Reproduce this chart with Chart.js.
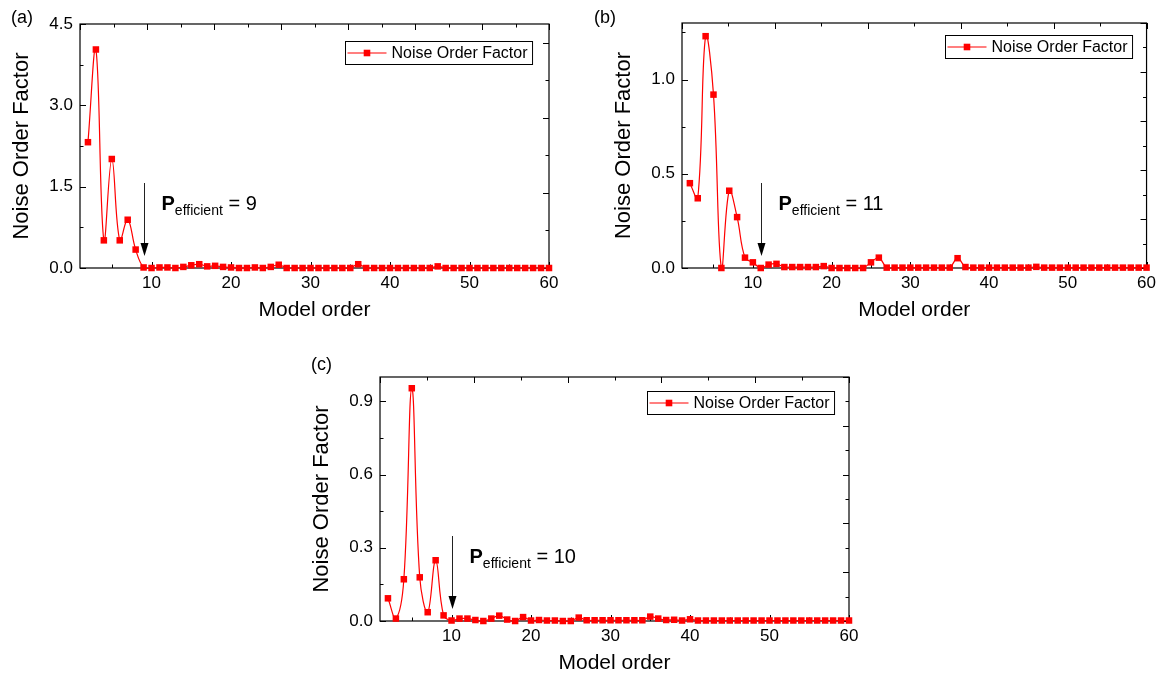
<!DOCTYPE html>
<html>
<head>
<meta charset="utf-8">
<script src="https://cdn.jsdelivr.net/npm/chart.js@4.4.1/dist/chart.umd.min.js"></script>
<style>
  body { margin: 0; background: #fff; width: 1161px; height: 682px; position: relative; overflow: hidden;
         font-family: "Liberation Sans", Arial, sans-serif; }
  canvas { position: absolute; }
  .tag { position: absolute; font-size: 18px; line-height: 1; color: #000; }
</style>
</head>
<body>
<canvas id="chart-a" width="570" height="340" style="left:0;top:0"></canvas>
<canvas id="chart-b" width="559" height="340" style="left:602px;top:0"></canvas>
<canvas id="chart-c" width="570" height="340" style="left:300px;top:353px"></canvas>
<div class="tag" style="left:11px;top:8px">(a)</div>
<div class="tag" style="left:594px;top:8px">(b)</div>
<div class="tag" style="left:311px;top:355px">(c)</div>
<script>
// model orders 2..60
const modelOrder = [2, 3, 4, 5, 6, 7, 8, 9, 10, 11, 12, 13, 14, 15, 16, 17, 18, 19, 20,
  21, 22, 23, 24, 25, 26, 27, 28, 29, 30, 31, 32, 33, 34, 35, 36, 37, 38, 39, 40,
  41, 42, 43, 44, 45, 46, 47, 48, 49, 50, 51, 52, 53, 54, 55, 56, 57, 58, 59, 60];

const noiseA = [2.32, 4.03, 0.51, 2.01, 0.51, 0.89, 0.34, 0.01, 0.00, 0.01, 0.01, 0.00, 0.02, 0.05,
  0.07, 0.03, 0.04, 0.02, 0.01, 0.00, 0.00, 0.01, 0.00, 0.02, 0.06,
  0.00, 0.00, 0.00, 0.00, 0.00, 0.00, 0.00, 0.00, 0.00, 0.07,
  0.00, 0.00, 0.00, 0.00, 0.00, 0.00, 0.00, 0.00, 0.00, 0.03,
  0.00, 0.00, 0.00, 0.00, 0.00, 0.00, 0.00, 0.00, 0.00, 0.00, 0.00, 0.00, 0.00, 0.00];

const noiseB = [0.45, 0.37, 1.23, 0.92, 0.00, 0.41, 0.27, 0.055, 0.03, 0.00, 0.018, 0.022, 0.005,
  0.005, 0.005, 0.005, 0.005, 0.01, 0.00, 0.00, 0.00, 0.00, 0.00, 0.03, 0.055,
  0.002, 0.002, 0.002, 0.002, 0.002, 0.002, 0.002, 0.002, 0.002, 0.052, 0.005,
  0.002, 0.002, 0.002, 0.002, 0.002, 0.002, 0.002, 0.002, 0.006,
  0.002, 0.002, 0.002, 0.002, 0.002, 0.002, 0.002, 0.002, 0.002, 0.002, 0.002, 0.002, 0.002, 0.002];

const noiseC = [0.093, 0.01, 0.171, 0.954, 0.179, 0.036, 0.249, 0.023, 0.002, 0.01, 0.01, 0.004,
  0.00, 0.01, 0.022, 0.006, 0.00, 0.016, 0.002, 0.004, 0.002, 0.002, 0.00, 0.00, 0.014, 0.003,
  0.003, 0.003, 0.003, 0.003, 0.003, 0.003, 0.003,
  0.018, 0.01, 0.004, 0.005, 0.002, 0.007,
  0.002, 0.002, 0.002, 0.002, 0.002, 0.002, 0.002, 0.002, 0.002, 0.002,
  0.002, 0.002, 0.002, 0.002, 0.002, 0.002, 0.002, 0.002, 0.002, 0.002];

const xTicks  = [10, 20, 30, 40, 50, 60];
const yTicksA = [0, 1.5, 3.0, 4.5];
const yTicksB = [0, 0.5, 1.0];
const yTicksC = [0, 0.3, 0.6, 0.9];

const seriesName = "Noise Order Factor";
const RED = "#ff0000";
const FONT = '"Liberation Sans", Arial, sans-serif';

Chart.defaults.font.family = FONT;
Chart.defaults.color = "#000";

function tickRange(min, max, step) {
  const out = [];
  for (let i = Math.ceil(min / step - 1e-9); i * step <= max + 1e-9; i++) out.push(i * step);
  return out;
}

// box frame with inward major/minor ticks on all four sides
const frameTicks = {
  id: "frameTicks",
  beforeDatasetsDraw(chart, args, o) {
    const { ctx, chartArea: a, scales } = chart;
    ctx.save();
    ctx.strokeStyle = "#000";
    ctx.lineWidth = 1.2;
    ctx.strokeRect(a.left, a.top, a.width, a.height);
    ctx.lineWidth = 1;
    const side = (scale, major, minor, edge, dir, horiz) => {
      const opts = scale.options;
      tickRange(opts.min, opts.max, minor).forEach(v => {
        const isMajor = Math.abs(v / major - Math.round(v / major)) < 1e-6;
        const len = isMajor ? 6 : 3.5;
        const p = Math.round(scale.getPixelForValue(v)) + 0.5;
        ctx.beginPath();
        if (horiz) { ctx.moveTo(p, edge); ctx.lineTo(p, edge + dir * len); }
        else { ctx.moveTo(edge, p); ctx.lineTo(edge + dir * len, p); }
        ctx.stroke();
      });
    };
    side(scales.x,  o.x[0],  o.x[1],  a.bottom, -1, true);
    side(scales.x2, o.x2[0], o.x2[1], a.top,     1, true);
    side(scales.y,  o.y[0],  o.y[1],  a.left,    1, false);
    side(scales.y2, o.y2[0], o.y2[1], a.right,  -1, false);
    ctx.restore();
  },
};

// arrow + "P_efficient = n" label
const pMark = {
  id: "pMark",
  afterDatasetsDraw(chart, args, o) {
    const { ctx, chartArea: a, scales } = chart;
    const x = Math.round(scales.x.getPixelForValue(o.order)) + 0.5;
    const y0 = a.bottom - 85, y1 = a.bottom - 12;
    ctx.save();
    ctx.strokeStyle = "#222";
    ctx.fillStyle = "#000";
    ctx.lineWidth = 1;
    ctx.beginPath(); ctx.moveTo(x, y0); ctx.lineTo(x, y1 - 12); ctx.stroke();
    ctx.beginPath();
    ctx.moveTo(x - 4, y1 - 13); ctx.lineTo(x + 4, y1 - 13); ctx.lineTo(x, y1);
    ctx.closePath(); ctx.fill();

    const base = a.bottom - 58;
    let tx = x + 17;
    ctx.textBaseline = "alphabetic";
    ctx.font = "bold 20px " + FONT;
    ctx.fillText("P", tx, base);
    tx += ctx.measureText("P").width;
    ctx.font = "14px " + FONT;
    ctx.fillText("efficient", tx, base + 5);
    tx += ctx.measureText("efficient").width;
    ctx.font = "20px " + FONT;
    ctx.fillText(" = " + o.order, tx, base);
    ctx.restore();
  },
};

// boxed legend in the upper right of the plot
const boxLegend = {
  id: "boxLegend",
  afterDraw(chart, args, o) {
    const { ctx, chartArea: a } = chart;
    ctx.save();
    ctx.font = "16px " + FONT;
    const w = 46 + ctx.measureText(seriesName).width + 5, h = 23;
    const left = Math.round(a.right - o.dx - w) + 0.5, top = Math.round(a.top + o.dy) + 0.5;
    ctx.fillStyle = "#fff";
    ctx.fillRect(left, top, w, h);
    ctx.strokeStyle = "#000";
    ctx.lineWidth = 1;
    ctx.strokeRect(left, top, w, h);
    const my = top + h / 2;
    ctx.strokeStyle = RED;
    ctx.lineWidth = 1.2;
    ctx.beginPath(); ctx.moveTo(left + 2, my); ctx.lineTo(left + 41, my); ctx.stroke();
    ctx.fillStyle = RED;
    ctx.fillRect(left + 21.5 - 3.3, my - 3.3, 6.6, 6.6);
    ctx.fillStyle = "#000";
    ctx.textBaseline = "middle";
    ctx.fillText(seriesName, left + 46, my + 1);
    ctx.restore();
  },
};

function mkPanel(canvasId, values, yMax, yTicks, yMinor, order, pad, legendOff, twin) {
  const ctx = document.getElementById(canvasId).getContext("2d");
  return new Chart(ctx, {
    type: "line",
    data: {
      datasets: [{
        label: seriesName,
        data: modelOrder.map((m, i) => ({ x: m, y: values[i] })),
        borderColor: RED,
        backgroundColor: RED,
        borderWidth: 1.2,
        pointStyle: "rect",
        pointRadius: 4.6,
        pointBorderWidth: 0,
        pointBackgroundColor: RED,
        tension: 0.4,
        clip: false,
      }],
    },
    options: {
      responsive: false,
      animation: false,
      elements: { line: { capBezierPoints: false } },
      layout: { padding: { left: 0, top: pad.top, right: pad.right, bottom: 0 } },
      plugins: {
        legend: { display: false },
        tooltip: { enabled: false },
        frameTicks: { x: [10, 5], x2: [2, 1], y: [yMinor * 2, yMinor], y2: [2, 1] },
        pMark: { order },
        boxLegend: legendOff,
      },
      scales: {
        x: {
          type: "linear", position: "bottom", min: 1, max: 60,
          afterBuildTicks: s => { s.ticks = xTicks.map(v => ({ value: v })); },
          afterFit: s => { s.height = 72; },
          ticks: { font: { size: 17 }, color: "#000", padding: 5, maxRotation: 0 },
          grid: { display: false, drawTicks: false },
          border: { display: false },
          title: { display: true, text: "Model order", font: { size: 21 }, color: "#000", padding: { top: 0, bottom: 17 } },
        },
        x2: { type: "linear", position: "top", min: 0, max: twin.x2, display: false },
        y: {
          type: "linear", position: "left", min: 0, max: yMax,
          afterBuildTicks: s => { s.ticks = yTicks.map(v => ({ value: v })); },
          afterFit: s => { s.width = 80; },
          ticks: { font: { size: 17 }, color: "#000", padding: 7, callback: v => v.toFixed(1) },
          grid: { display: false, drawTicks: false },
          border: { display: false },
          title: { display: true, text: "Noise Order Factor", font: { size: 22 }, color: "#000", padding: { top: 9, bottom: 0 } },
        },
        y2: { type: "linear", position: "right", min: 0, max: twin.y2, display: false },
      },
    },
    plugins: [frameTicks, pMark, boxLegend],
  });
}

mkPanel("chart-a", noiseA, 4.5, yTicksA, 0.75, 9,  { top: 24, right: 21 }, { dx: 17, dy: 17 }, { x2: 14, y2: 6.5 });
mkPanel("chart-b", noiseB, 1.3, yTicksB, 0.25, 11, { top: 23, right: 9 },  { dx: 15, dy: 12 }, { x2: 10, y2: 10 });
mkPanel("chart-c", noiseC, 1.0, yTicksC, 0.15, 10, { top: 24, right: 21 }, { dx: 15, dy: 14 }, { x2: 10, y2: 10 });
</script>
</body>
</html>
